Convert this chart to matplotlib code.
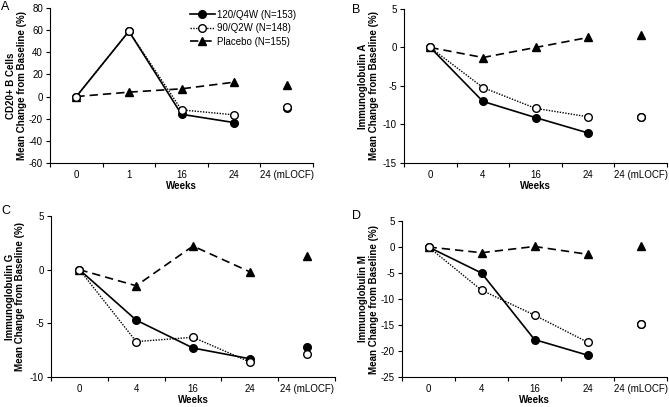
import numpy as np
import matplotlib
matplotlib.use("Agg")
import matplotlib.pyplot as plt

plt.rcParams['font.family'] = ['Liberation Sans', 'DejaVu Sans']
plt.rcParams['axes.unicode_minus'] = False

labels_a = ['0', '1', '16', '24', '24 (mLOCF)']
labels_bcd = ['0', '4', '16', '24', '24 (mLOCF)']

# panel A: CD20+ B cells
a_120 = [0, 59, -16, -23.5, -10]
a_90 = [0, 59, -12, -16.5, -9]
a_pl = [0, 4, 7, 13, 10.5]
# panel B: IgA
b_120 = [0, -7.0, -9.1, -11.1, -9.0]
b_90 = [0, -5.2, -7.9, -9.0, -9.0]
b_pl = [0, -1.3, 0, 1.3, 1.6]
# panel C: IgG
c_120 = [0, -4.7, -7.3, -8.3, -7.2]
c_90 = [0, -6.7, -6.3, -8.6, -7.9]
c_pl = [0, -1.5, 2.2, -0.2, 1.3]
# panel D: IgM
d_120 = [0, -5.0, -17.8, -20.8, -14.9]
d_90 = [0, -8.3, -13.1, -18.3, -14.9]
d_pl = [0, -1.1, 0.1, -1.4, 0.1]

W, H = 669, 407
fig = plt.figure(figsize=(W / 100, H / 100), dpi=100)


def px_axes(l, r, b, t):
    return fig.add_axes([l / W, 1 - b / H, (r - l) / W, (b - t) / H])


def panel(ax, s120, s90, spl, labels, ylim, yticks, ylabel, lab_x):
    x = np.arange(5)
    ax.plot(x[:4], spl[:4], color='black', ls=(0, (5, 3)), lw=1.2,
            marker='^', ms=5.5, mfc='black', mec='black', label='Placebo (N=155)', zorder=3)
    ax.plot(x[4], spl[4], marker='^', ms=5.5, color='black', ls='none', zorder=3)
    ax.plot(x[:4], s120[:4], color='black', ls='-', lw=1.2,
            marker='o', ms=5.5, mfc='black', mec='black', label='120/Q4W (N=153)', zorder=4)
    ax.plot(x[4], s120[4], marker='o', ms=5.5, color='black', ls='none', zorder=4)
    ax.plot(x[:4], s90[:4], color='black', ls=(0, (1, 1)), lw=1.0,
            marker='o', ms=5.5, mfc='white', mec='black', mew=1.0, label='90/Q2W (N=148)', zorder=5)
    ax.plot(x[4], s90[4], marker='o', ms=5.5, mfc='white', mec='black', mew=1.0,
            ls='none', zorder=5)
    ax.set_xlim(-0.5, 4.5)
    ax.set_ylim(*ylim)
    ax.set_yticks(yticks)
    ax.set_xticks(x)
    ax.set_xticklabels(labels, fontsize=7)
    ax.set_xticks(np.arange(-0.5, 5.0, 1.0), minor=True)
    ax.tick_params(axis='x', which='major', length=0, pad=5)
    ax.tick_params(axis='x', which='minor', length=3, width=0.8, direction='out')
    ax.tick_params(axis='y', length=3, width=0.8, labelsize=7, pad=2)
    for s in ['top', 'right']:
        ax.spines[s].set_visible(False)
    for s in ['left', 'bottom']:
        ax.spines[s].set_linewidth(0.8)
    ax.set_xlabel('Weeks', fontsize=7, fontweight='bold', labelpad=1)
    ax.set_ylabel(ylabel, fontsize=7, fontweight='bold', linespacing=1.1)
    ax.yaxis.set_label_coords(lab_x, 0.5)


axA = px_axes(50, 313, 163, 8)
axB = px_axes(404, 667, 163, 9)
axC = px_axes(51, 335, 377, 216)
axD = px_axes(402, 667, 377, 221)

panel(axA, a_120, a_90, a_pl, labels_a, (-60, 80), np.arange(-60, 81, 20),
      'CD20+ B Cells\nMean Change from Baseline (%)', -0.087)
panel(axB, b_120, b_90, b_pl, labels_bcd, (-15, 5), np.arange(-15, 6, 5),
      'Immunoglobulin A\nMean Change from Baseline (%)', -0.095)
panel(axC, c_120, c_90, c_pl, labels_bcd, (-10, 5), np.arange(-10, 6, 5),
      'Immunoglobulin G\nMean Change from Baseline (%)', -0.09)
panel(axD, d_120, d_90, d_pl, labels_bcd, (-25, 5), np.arange(-25, 6, 5),
      'Immunoglobulin M\nMean Change from Baseline (%)', -0.087)

h, l = axA.get_legend_handles_labels()
order = [1, 2, 0]
axA.legend([h[i] for i in order], [l[i] for i in order], loc='upper left',
           bbox_to_anchor=(183 / W, 1 - 3 / H), bbox_transform=fig.transFigure,
           frameon=False, fontsize=7, handlelength=2.6, handletextpad=0.2,
           labelspacing=0.35, borderpad=0.2)

for txt, xp, yp in [('A', 1, 7), ('B', 352, 10), ('C', 1, 211), ('D', 352, 216)]:
    fig.text(xp / W, 1 - yp / H, txt, fontsize=9, va='center', ha='left')

fig.savefig('out.png', dpi=100)
